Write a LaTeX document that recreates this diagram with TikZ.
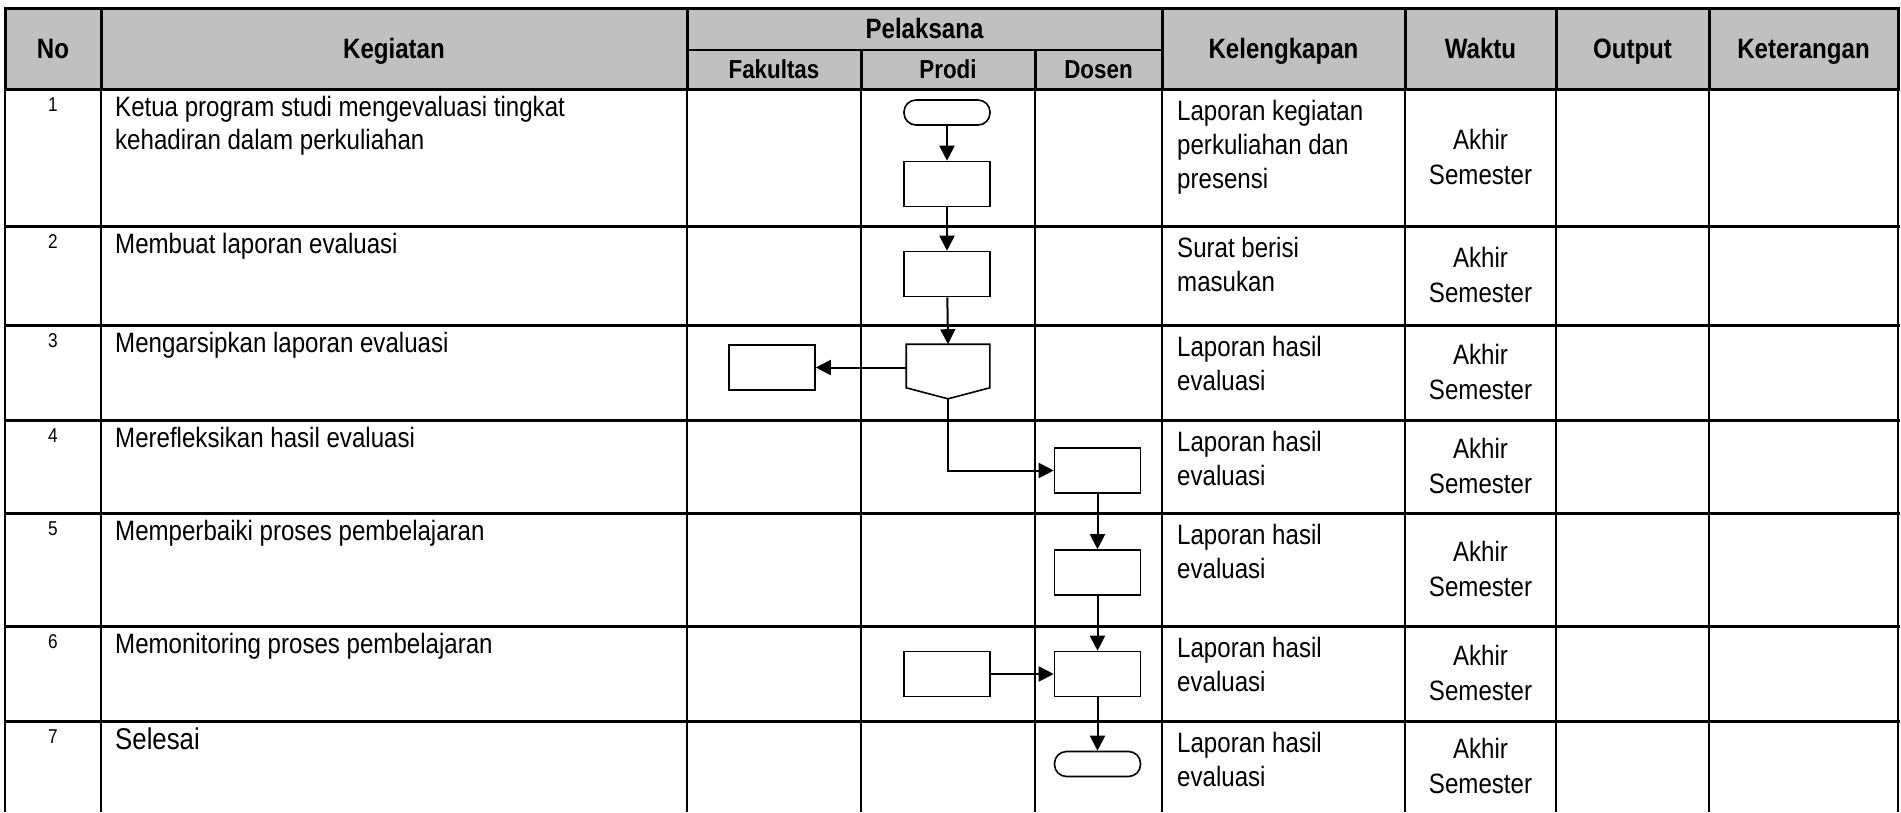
\documentclass[tikz,border=0pt]{standalone}
\usepackage{fontspec}
\setmainfont{Liberation Sans}
\newfontfamily\NarrowFam{Liberation Sans}[FakeStretch=0.86]
\usetikzlibrary{arrows.meta}
\definecolor{headgray}{HTML}{C0C0C0}
\newcommand\FtBody{\NarrowFam\fontsize{28}{33}\selectfont}
\newcommand\FtNarrow{\NarrowFam\fontsize{28}{34}\selectfont}
\newcommand\FtHead{\NarrowFam\bfseries\fontsize{28}{32}\selectfont}
\newcommand\FtSub{\NarrowFam\bfseries\fontsize{26}{30}\selectfont}
\newcommand\FtNum{\NarrowFam\fontsize{20}{24}\selectfont}
\begin{document}
\begin{tikzpicture}[x=1pt,y=-1pt,
  hline/.style={line width=3pt,line cap=rect},
  vline/.style={line width=2pt},
  hvline/.style={line width=3pt},
  shp/.style={draw,line width=1.6pt,inner sep=0pt,minimum width=86pt,minimum height=45pt},
  term/.style={shp,rounded corners=12pt,minimum height=25pt},
  arr/.style={line width=2pt,-{Triangle[length=15pt,width=15pt]}},
  txt/.style={anchor=base west,inner sep=0pt,font=\FtBody},
  ntxt/.style={anchor=base west,inner sep=0pt,font=\FtNarrow},
  wtxt/.style={anchor=base,inner sep=0pt,font=\FtNarrow},
  num/.style={anchor=base,inner sep=0pt,font=\FtNum},
  head/.style={anchor=base,inner sep=0pt,font=\FtHead},
  sub/.style={anchor=base,inner sep=0pt,font=\FtSub}]
\useasboundingbox (0,0) rectangle (1901,812);
% header background
\fill[headgray] (5,8) rectangle (1898,89);
% vertical lines
\foreach \x in {5,101,687,1162,1405,1556,1709,1898}{
  \draw[vline] (\x,8) -- (\x,812);
  \draw[hvline] (\x,8) -- (\x,89);}
\foreach \x in {861,1035}{
  \draw[vline] (\x,50) -- (\x,812);
  \draw[hvline] (\x,50) -- (\x,89);}
% horizontal lines
\foreach \y in {8,89,226,325,420,513,626,721}{
  \draw[hline] (5,\y) -- (1898,\y);}
\draw[line width=2.5pt] (687,50) -- (1162,50);
% header texts
\node[head] (hno) at (53,58) {No};
\node[head] (hkeg) at (394,58) {Kegiatan};
\node[head] (hpel) at (924.5,38) {Pelaksana};
\node[sub] (hfak) at (774,78) {Fakultas};
\node[sub] (hpro) at (948,78) {Prodi};
\node[sub] (hdos) at (1098.5,78) {Dosen};
\node[head] (hkel) at (1283.5,58) {Kelengkapan};
\node[head] (hwak) at (1480.5,58) {Waktu};
\node[head] (hout) at (1632.5,58) {Output};
\node[head] (hket) at (1803.5,58) {Keterangan};
% numbers
\node[num] (n1) at (53,111) {1};
\node[num] (n2) at (53,248) {2};
\node[num] (n3) at (53,347) {3};
\node[num] (n4) at (53,442) {4};
\node[num] (n5) at (53,535) {5};
\node[num] (n6) at (53,648) {6};
\node[num] (n7) at (53,743) {7};
% kegiatan
\node[txt] (k1a) at (115,116) {Ketua program studi mengevaluasi tingkat};
\node[txt] (k1b) at (115,149) {kehadiran dalam perkuliahan};
\node[txt] (k2) at (115,253) {Membuat laporan evaluasi};
\node[txt] (k3) at (115,352) {Mengarsipkan laporan evaluasi};
\node[txt] (k4) at (115,447) {Merefleksikan hasil evaluasi};
\node[txt] (k5) at (115,540) {Memperbaiki proses pembelajaran};
\node[txt] (k6) at (115,653) {Memonitoring proses pembelajaran};
\node[txt,font=\NarrowFam\fontsize{30}{34}\selectfont] (k7) at (115,749) {Selesai};
% kelengkapan
\node[ntxt] (l1a) at (1177,120) {Laporan kegiatan};
\node[ntxt] (l1b) at (1177,154) {perkuliahan dan};
\node[ntxt] (l1c) at (1177,188) {presensi};
\node[ntxt] (l2a) at (1177,257) {Surat berisi};
\node[ntxt] (l2b) at (1177,291) {masukan};
\node[ntxt] (l3a) at (1177,356) {Laporan hasil};
\node[ntxt] (l3b) at (1177,390) {evaluasi};
\node[ntxt] (l4a) at (1177,451) {Laporan hasil};
\node[ntxt] (l4b) at (1177,485) {evaluasi};
\node[ntxt] (l5a) at (1177,544) {Laporan hasil};
\node[ntxt] (l5b) at (1177,578) {evaluasi};
\node[ntxt] (l6a) at (1177,657) {Laporan hasil};
\node[ntxt] (l6b) at (1177,691) {evaluasi};
\node[ntxt] (l7a) at (1177,752) {Laporan hasil};
\node[ntxt] (l7b) at (1177,786) {evaluasi};
% waktu
\foreach \c/\i in {157.5/1,275.5/2,372.5/3,466.5/4,569.5/5,673.5/6,766.5/7}{
  \node[wtxt] (w\i a) at (1480.5,\c-8) {Akhir};
  \node[wtxt] (w\i b) at (1480.5,\c+27) {Semester};}
% flowchart shapes
\node[term] (t1) at (947,112.5) {};
\node[shp] (p1) at (947,184) {};
\node[shp] (p2) at (947,274) {};
\node[shp,draw=none,minimum width=82pt,minimum height=53pt] (op) at (948,371.5) {};
\draw[line width=1.6pt,line join=miter] (op.north west) -- (op.north east) -- ([yshift=11pt]op.south east) -- (op.south) -- ([yshift=11pt]op.south west) -- cycle;
\node[shp] (f3) at (772,367.5) {};
\node[shp] (d4) at (1097.5,470.5) {};
\node[shp] (d5) at (1097.5,572.5) {};
\node[shp] (d6) at (1097.5,674) {};
\node[shp] (p6) at (947,674) {};
\node[term] (t7) at (1097.5,764) {};
% connectors
\draw[arr] (t1) -- (p1);
\draw[arr] (p1) -- (p2);
\draw[arr] (p2) -- (op.north);
\draw[arr] (op.west |- f3.east) -- (f3.east);
\draw[arr] (op.south) |- (d4.west);
\draw[arr] (d4) -- (d5);
\draw[arr] (d5) -- (d6);
\draw[arr] (p6) -- (d6);
\draw[arr] (d6) -- (t7);
\end{tikzpicture}
\end{document}
